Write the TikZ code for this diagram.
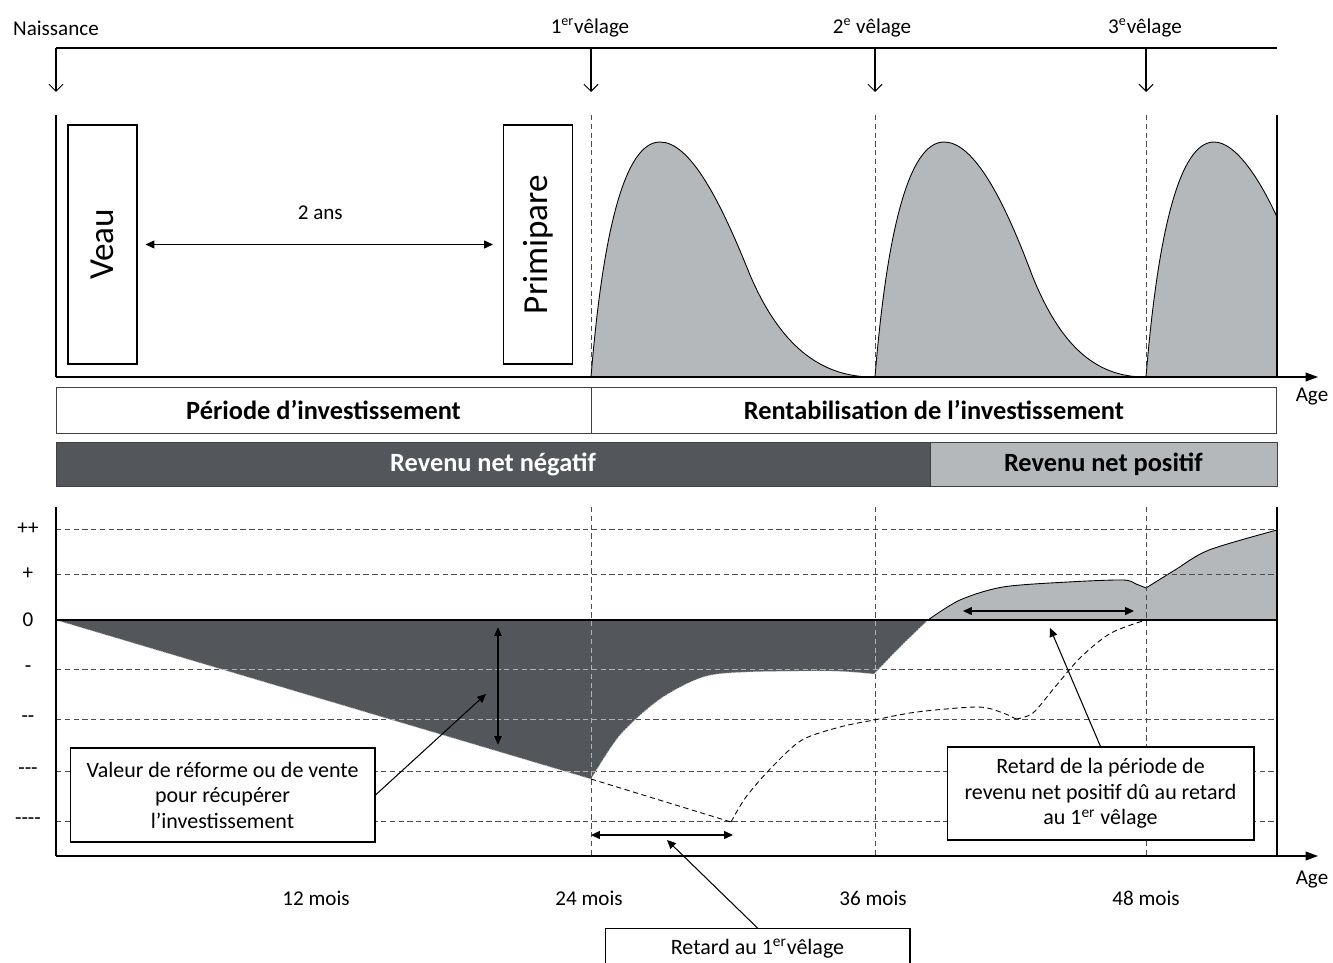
\documentclass[tikz,border=0pt]{standalone}
\usepackage{fontspec}
\setmainfont{Carlito}
\usetikzlibrary{arrows.meta,positioning}
\definecolor{darkfill}{RGB}{83,86,90}
\definecolor{lightfill}{RGB}{181,184,187}
% zone of negative net income
\newcommand{\negzone}{(56,620) -- (591,779)
  -- plot[smooth] coordinates {(591,779) (620,735) (660,699) (703,677) (746,672) (832,671) (874,674)}
  -- plot[smooth] coordinates {(874,674) (900,647) (928,620)} -- cycle}

\begin{document}
\begin{tikzpicture}[
  x=0.02cm, y=-0.02cm,
  font=\fontsize{12}{14}\selectfont,
  box/.style={rectangle, draw, fill=white, align=center, inner sep=2pt, line width=0.6pt, font=\fontsize{12.5}{14.5}\selectfont},
  bar/.style={rectangle, draw=black!75, outer sep=0pt, minimum height=0.92cm, font=\bfseries\fontsize{15}{17}\selectfont},
  stage/.style={rectangle, draw, line width=0.6pt, minimum width=4.78cm, minimum height=1.38cm, rotate=90, font=\fontsize{20}{24}\selectfont},
  guide/.style={dash pattern=on 3pt off 2pt, black!70, line width=0.5pt},
  timearrow/.style={-{Straight Barb[length=4pt,width=8pt]}, line width=0.6pt},
  dbl/.style={{Triangle[length=5pt,width=4.5pt]}-{Triangle[length=5pt,width=4.5pt]}, line width=0.6pt},
  tip/.style={-{Triangle[length=5pt,width=4.5pt]}, line width=0.6pt},
  axis/.style={-{Triangle[length=7pt,width=5pt]}, line width=0.7pt}
]
\clip (0,0) rectangle (1333,963);

% time line
\node (naissance) at (56,28) {Naissance};
\node (velage1) at (590,28) {1\textsuperscript{er}vêlage};
\node (velage2) at (872,28) {2\textsuperscript{e} vêlage};
\node (velage3) at (1145,28) {3\textsuperscript{e}vêlage};
\draw[line width=0.6pt] (56,48) -- (1277,48);
\coordinate (t0) at (56,48);
\coordinate (t1) at (591,48);
\coordinate (t2) at (875,48);
\coordinate (t3) at (1146,48);
\coordinate (b0) at (56,92);
\coordinate (b1) at (591,92);
\coordinate (b2) at (875,92);
\coordinate (b3) at (1146,92);
\draw[timearrow] (t0) -- (b0);
\draw[timearrow] (t1) -- (b1);
\draw[timearrow] (t2) -- (b2);
\draw[timearrow] (t3) -- (b3);

% lactations
\draw[guide] (591,115) -- (591,377);
\draw[guide] (875,115) -- (875,377);
\draw[guide] (1146,115) -- (1146,377);
\filldraw[fill=lightfill, draw=black, line width=0.5pt] (591,377) .. controls (603,230) and (625,142) .. (660,142)
  .. controls (690,142) and (720,200) .. (750,275) .. controls (780,345) and (820,377) .. (873,377) -- cycle;
\filldraw[fill=lightfill, draw=black, line width=0.5pt] (875,377) .. controls (887,230) and (909,142) .. (944,142)
  .. controls (974,142) and (1004,200) .. (1032,275) .. controls (1060,345) and (1095,377) .. (1145,377) -- cycle;
\filldraw[fill=lightfill, draw=black, line width=0.5pt] (1146,377) .. controls (1158,230) and (1180,142) .. (1214,142)
  .. controls (1236,142) and (1260,180) .. (1277,217) -- (1277,377) -- cycle;
\draw[line width=0.6pt] (56,115) -- (56,377);
\draw[line width=0.6pt] (1277,115) -- (1277,377);
\draw[axis] (56,377) -- (1318,377);
\node (age1) at (1312,397) {Age};

\node[stage] (veau) at (102.5,244.5) {Veau};
\node[stage] (primipare) at (538,244.5) {Primipare};
\draw[dbl, shorten <=0.16cm, shorten >=0.2cm] (veau.south) -- (primipare.north)
  node[midway, above=0.36cm] (deuxans) {2 ans};

% periods
\node[bar, minimum width=10.7cm] (investir) at (323.5,410) {Période d’investissement};
\node[bar, minimum width=13.72cm, right=0pt of investir] (rentab) {Rentabilisation de l’investissement};
\node[bar, fill=darkfill, text=white, minimum width=17.48cm, minimum height=0.88cm] (negatif) at (493,464) {Revenu net négatif};
\node[bar, fill=lightfill, minimum width=6.94cm, minimum height=0.88cm, right=0pt of negatif] (positif) {Revenu net positif};

% net income
\fill[darkfill] \negzone;
\filldraw[fill=lightfill, draw=black, line width=0.5pt] plot[smooth] coordinates {(928,620) (960,600) (1003,587) (1068,582) (1123,580) (1136,584) (1146,588)}
  -- plot[smooth] coordinates {(1146,588) (1175,570) (1209,550) (1277,530)} -- (1277,620) -- cycle;
\draw[guide] (56,529) -- (1277,529);
\draw[guide] (56,574) -- (1277,574);
\draw[guide] (56,669) -- (1277,669);
\draw[guide] (56,719) -- (1277,719);
\draw[guide] (56,771) -- (1277,771);
\draw[guide] (56,821) -- (1277,821);
\draw[guide] (591,507) -- (591,856);
\draw[guide] (875,507) -- (875,856);
\draw[guide] (1146,507) -- (1146,856);
\begin{scope}
  \clip \negzone;
  \draw[guide, white!70!black] (56,669) -- (1277,669);
  \draw[guide, white!70!black] (56,719) -- (1277,719);
  \draw[guide, white!70!black] (56,771) -- (1277,771);
  \draw[guide, white!70!black] (591,507) -- (591,856);
  \draw[guide, white!70!black] (875,507) -- (875,856);
\end{scope}
\draw[densely dotted, white!75!black, line width=0.5pt] (56,620) -- (591,779)
  plot[smooth] coordinates {(591,779) (620,735) (660,699) (703,677) (746,672) (832,671) (874,674)}
  plot[smooth] coordinates {(874,674) (900,647) (928,620)};
\draw[densely dashed, line width=0.5pt] (591,779) -- (731,822)
  plot[smooth] coordinates {(731,822) (746,797) (772,767) (802,740) (840,727) (874,720) (917,712) (978,707) (1003,713) (1016,719)}
  plot[smooth] coordinates {(1016,719) (1033,713) (1055,687) (1081,657) (1111,633) (1146,620)};
\draw[line width=1.3pt] (56,620) -- (1277,620);
\draw[line width=0.6pt] (56,507) -- (56,856);
\draw[line width=0.6pt] (1277,507) -- (1277,856);
\draw[axis] (56,856) -- (1318,856);
\node (age2) at (1312,880) {Age};

\node (ypp) at (28,529) {++};
\node (yp) at (28,574) {+};
\node (y0) at (28,620) {0};
\node (ym) at (28,669) {-};
\node (ymm) at (28,719) {-{}-};
\node (ymmm) at (28,771) {-{}-{}-};
\node (ymmmm) at (28,821) {-{}-{}-{}-};

\node (m12) at (316,898) {12 mois};
\node (m24) at (589,898) {24 mois};
\node (m36) at (873,898) {36 mois};
\node (m48) at (1146,898) {48 mois};

% annotations
\coordinate (ecartH) at (498,627);
\coordinate (ecartB) at (498,745);
\draw[dbl, preaction={draw=white!70!black, line width=1.3pt}] (ecartH) -- (ecartB);
\node[box, minimum width=6.1cm, minimum height=1.88cm] (valeur) at (222.5,795) {Valeur de réforme ou de vente\\pour récupérer\\l’investissement};
\coordinate (valtip) at (486,694);
\draw[tip] (valeur.east) -- (valtip);

\coordinate (r1a) at (591,835);
\coordinate (r1b) at (733,835);
\draw[dbl] (r1a) -- (r1b);
\node[box, anchor=north, minimum width=6.1cm, inner ysep=6pt] (retard1) at (757.5,928) {Retard au 1\textsuperscript{er}vêlage};
\coordinate (r1tip) at (667,840);
\draw[tip] (retard1.north) -- (r1tip);

\coordinate (r2a) at (963,611);
\coordinate (r2b) at (1134,611);
\draw[dbl] (r2a) -- (r2b);
\node[box, minimum width=6.14cm, minimum height=1.86cm] (retard2) at (1100.5,793.5) {Retard de la période de\\revenu net positif dû au retard\\au 1\textsuperscript{er} vêlage};
\coordinate (r2tip) at (1050,628);
\draw[tip] (retard2.north) -- (r2tip);
\end{tikzpicture}
\end{document}
